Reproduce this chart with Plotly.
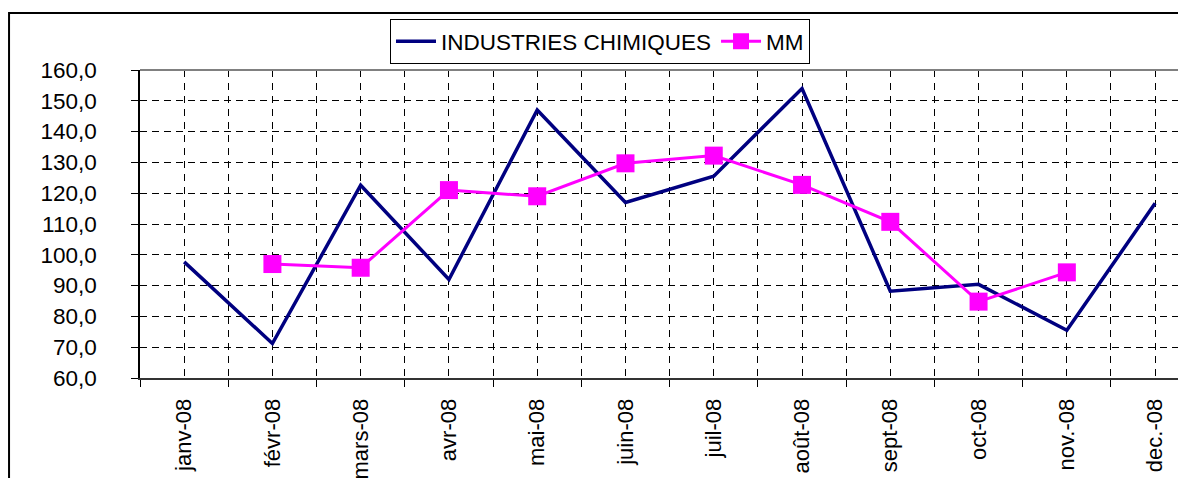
import plotly.graph_objects as go

months = ["janv-08", "févr-08", "mars-08", "avr-08", "mai-08", "juin-08",
          "juil-08", "août-08", "sept-08", "oct-08", "nov.-08", "dec.-08"]
industries = [97.7, 71.2, 122.6, 92.0, 147.0, 117.0, 125.5, 154.0, 88.2, 90.4, 75.5, 116.7]
mm = [None, 97.0, 95.8, 121.0, 119.0, 129.7, 132.2, 122.7, 110.7, 84.8, 94.3, None]

idx = list(range(len(months)))

fig = go.Figure()
fig.add_trace(go.Scatter(
    x=idx, y=industries, name="INDUSTRIES CHIMIQUES", mode="lines",
    line=dict(color="#000080", width=3.5)))
fig.add_trace(go.Scatter(
    x=idx, y=mm, name="MM", mode="lines+markers",
    line=dict(color="#FF00FF", width=3),
    marker=dict(symbol="square", size=18, color="#FF00FF")))

fam = "Liberation Sans, Arial, sans-serif"
font = dict(family=fam, size=22.5, color="black")

fig.update_layout(
    width=1178, height=470,
    margin=dict(l=132, r=0, t=62, b=100),
    paper_bgcolor="white", plot_bgcolor="white",
    font=font,
    separators=", ",
    showlegend=True,
    legend=dict(orientation="h", x=0.239, y=1.165, xanchor="left", yanchor="top",
                bgcolor="white", bordercolor="black", borderwidth=1,
                font=font, itemwidth=40, tracegroupgap=0),
    xaxis=dict(
        range=[-0.5, 11.35], tickmode="array", tickvals=idx, ticktext=months,
        tickangle=-90, ticks="", ticklen=0, ticklabelstandoff=10,
        tickfont=dict(family=fam, size=22, color="black"),
        showgrid=True, gridcolor="black", gridwidth=1, griddash="7px,6px",
        showline=True, linecolor="#333333", linewidth=2, zeroline=False,
        minor=dict(tick0=-0.5, dtick=1, ticks="outside", ticklen=7,
                   tickcolor="black", showgrid=True, gridcolor="black",
                   gridwidth=1, griddash="7px,6px"),
    ),
    yaxis=dict(
        range=[60, 160], dtick=10, tickformat=".1f",
        ticks="outside", ticklen=7, tickcolor="black", ticklabelstandoff=30,
        tickfont=dict(family=fam, size=22.5, color="black"),
        showgrid=True, gridcolor="black", gridwidth=1, griddash="7px,5px",
        showline=True, linecolor="black", linewidth=1.5, zeroline=False,
    ),
    shapes=[
        dict(type="line", xref="paper", yref="paper", x0=0, x1=1.01, y0=1, y1=1,
             line=dict(color="#808080", width=2)),
        dict(type="rect", xref="paper", yref="paper",
             x0=-0.1252, x1=1.2, y0=-0.6, y1=1.185,
             line=dict(color="black", width=2), fillcolor="rgba(0,0,0,0)", layer="below"),
    ],
)

fig.write_html("out.html")
